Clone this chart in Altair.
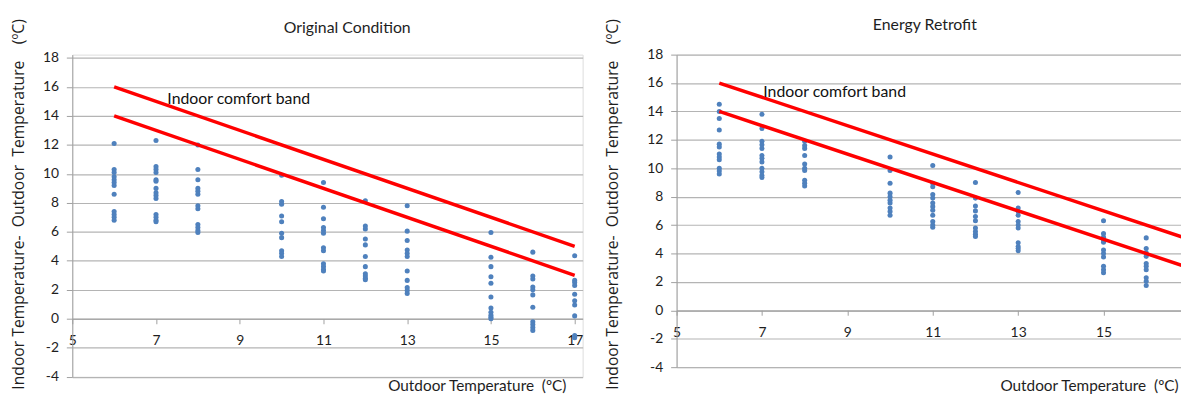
import altair as alt
import pandas as pd

# ---------------- data ----------------
outdoor_x = [6, 7, 8, 10, 11, 12, 13, 15, 16, 17]

orig_6 = [12.1, 10.3, 10.1, 9.8, 9.6, 9.4, 9.2, 8.6, 7.4, 7.2, 7.0, 6.8]
orig_7 = [12.3, 10.5, 10.3, 10.1, 9.6, 9.5, 9.0, 8.7, 8.5, 8.3, 7.2, 7.0, 6.8, 6.7]
orig_8 = [12.0, 10.3, 9.6, 9.0, 8.8, 8.6, 7.8, 7.6, 6.5, 6.3, 6.1, 5.95]
orig_10 = [9.9, 8.1, 7.9, 7.1, 6.7, 5.9, 5.6, 4.7, 4.5, 4.3]
orig_11 = [9.4, 7.7, 6.9, 6.3, 6.1, 5.9, 4.9, 4.7, 3.8, 3.6, 3.4, 3.3]
orig_12 = [8.15, 6.4, 6.2, 5.5, 5.1, 4.3, 3.6, 3.1, 2.95, 2.8, 2.7]
orig_13 = [7.8, 6.05, 5.4, 4.75, 4.5, 4.3, 3.3, 2.65, 2.15, 1.95, 1.75]
orig_15 = [5.95, 4.25, 3.6, 2.9, 2.45, 1.5, 0.75, 0.45, 0.25, 0.1, 0.0]
orig_16 = [4.6, 2.95, 2.75, 2.2, 2.0, 1.65, 0.8, -0.2, -0.4, -0.6, -0.8]
orig_17 = [4.35, 2.65, 2.5, 2.3, 1.7, 1.25, 0.95, 0.2, -1.15, -1.3]

retro_6 = [14.5, 14.0, 13.5, 12.7, 11.7, 11.5, 11.0, 10.8, 10.6, 10.0, 9.8, 9.6]
retro_7 = [13.8, 12.8, 11.9, 11.65, 11.4, 10.9, 10.7, 10.45, 10.0, 9.75, 9.5, 9.35]
retro_8 = [11.9, 11.6, 11.4, 10.9, 10.3, 10.0, 9.85, 9.15, 8.95, 8.75]
retro_10 = [10.8, 9.85, 8.95, 8.25, 8.0, 7.75, 7.55, 7.2, 6.95, 6.7]
retro_11 = [10.2, 8.95, 8.7, 8.15, 7.9, 7.55, 7.3, 7.05, 6.7, 6.25, 6.0, 5.85]
retro_12 = [9.0, 7.9, 7.35, 7.0, 6.6, 6.3, 5.8, 5.55, 5.35, 5.2]
retro_13 = [8.3, 7.2, 6.95, 6.7, 6.25, 6.0, 5.8, 4.75, 4.5, 4.35, 4.2]
retro_15 = [6.3, 5.4, 5.15, 4.95, 4.8, 4.25, 4.0, 3.75, 3.1, 2.85, 2.65]
retro_16 = [5.1, 4.35, 4.05, 3.8, 3.3, 3.1, 2.85, 2.3, 2.05, 1.75]
retro_17 = [4.35, 3.65, 3.1, 2.85, 2.4, 2.05, 1.6, 1.3, 1.0]

band_x = [6, 17]
band_upper = [16, 5]
band_lower = [14, 3]

note_text = "Indoor comfort band"
note_orig = (7.27, 15.15)
note_retro = (7.03, 15.4)

x_ticks_orig = [5, 7, 9, 11, 13, 15, 17]
x_ticks_retro = [5, 7, 9, 11, 13, 15]
y_ticks = [-4, -2, 0, 2, 4, 6, 8, 10, 12, 14, 16, 18]

NB = "\u00a0"
y_title = "Indoor Temperature-" + NB * 2 + "Outdoor" + NB * 2 + "Temperature" + NB * 4 + "(ºC)"
x_title = "Outdoor Temperature" + NB * 2 + "(ºC)"

orig_cols = [orig_6, orig_7, orig_8, orig_10, orig_11, orig_12, orig_13, orig_15, orig_16, orig_17]
retro_cols = [retro_6, retro_7, retro_8, retro_10, retro_11, retro_12, retro_13, retro_15, retro_16, retro_17]


def points_frame(cols):
    rows = []
    for xv, col in zip(outdoor_x, cols):
        for v in col:
            rows.append({"x": xv, "y": v})
    return pd.DataFrame(rows)


band_df = pd.DataFrame(
    {"x": band_x + band_x,
     "y": band_upper + band_lower,
     "band": ["upper"] * 2 + ["lower"] * 2}
)

GRID = "#B4B4B4"
AXIS = "#A0A0A0"
FONT = "Lato"
TXT = "#1E1E1E"
LABEL_EXPR = "datum.value < 0 ? '-' + abs(datum.value) : '' + datum.value"


def panel(cols, title, xdom, ydom, width, height, xticks, title_dx, title_dy,
          ypad, ytitle_y, xoff, xtitle_x, xtitle_y, note):
    pts = points_frame(cols)
    xscale = alt.Scale(domain=xdom, nice=False, zero=False)
    yscale = alt.Scale(domain=ydom, nice=False, zero=False)
    xaxis = alt.Axis(values=xticks, tickCount=20, grid=False, offset=xoff, domainColor=AXIS,
                     tickColor=AXIS, tickSize=5, labelPadding=10, labelOverlap=False,
                     labelFlush=False,
                     labelFontSize=14, labelFont=FONT, labelColor=TXT,
                     title=x_title, titleX=xtitle_x, titleY=xtitle_y,
                     titleAlign="center", titleBaseline="middle",
                     titleFontSize=15.5, titleFont=FONT, titleFontWeight="normal",
                     titleColor=TXT, labelExpr=LABEL_EXPR)
    yaxis = alt.Axis(values=y_ticks, tickCount=20, grid=True, gridColor=GRID, gridWidth=1.2,
                     domainColor=AXIS, tickColor=AXIS, tickSize=6, labelPadding=8,
                     labelOverlap=False,
                     labelFontSize=14, labelFont=FONT, labelColor=TXT,
                     title=y_title, titlePadding=ypad, titleY=ytitle_y,
                     titleAlign="center", titleFontSize=15.9,
                     titleFont="Open Sans", titleFontWeight="normal",
                     titleColor=TXT, labelExpr=LABEL_EXPR)
    base_pts = alt.Chart(pts).mark_circle(size=26, color="#4F81BD", opacity=1, clip=True).encode(
        x=alt.X("x:Q", scale=xscale, axis=xaxis),
        y=alt.Y("y:Q", scale=yscale, axis=yaxis),
    )
    lines = alt.Chart(band_df).mark_line(color="#FF0000", strokeWidth=3.5, clip=True).encode(
        x=alt.X("x:Q", scale=xscale),
        y=alt.Y("y:Q", scale=yscale),
        detail="band:N",
    )
    note_df = pd.DataFrame({"x": [note[0]], "y": [note[1]], "t": [note_text]})
    txt = alt.Chart(note_df).mark_text(align="left", baseline="middle", fontSize=16,
                                       font=FONT, color="#111111").encode(
        x=alt.X("x:Q", scale=xscale),
        y=alt.Y("y:Q", scale=yscale),
        text="t:N",
    )
    return alt.layer(base_pts, lines, txt).properties(
        width=width, height=height,
        title=alt.TitleParams(title, fontSize=16, font=FONT, fontWeight="normal",
                              color=TXT, anchor="middle", dx=title_dx,
                              offset=0, dy=title_dy, frame="group"),
    )


left = panel(orig_cols, "Original Condition", [5, 17.19], [-4, 18.23], 516, 325.7,
             x_ticks_orig, 20, 17.7, 16, 151, -58.6, 409, 68, note_orig)
right = panel(retro_cols, "Energy Retrofit", [5, 17.0], [-4, 18], 518, 316,
              x_ticks_retro, -8, 14.7, 27, 151, -57.5, 417, 76.5, note_retro)

chart = alt.hconcat(left, right, spacing=20).properties(
    padding={"left": 2, "top": 6, "right": -9, "bottom": -3}
).configure_view(stroke=None).configure(background="white")

chart.save("out.html", embed_options={"renderer": "svg", "actions": False})
